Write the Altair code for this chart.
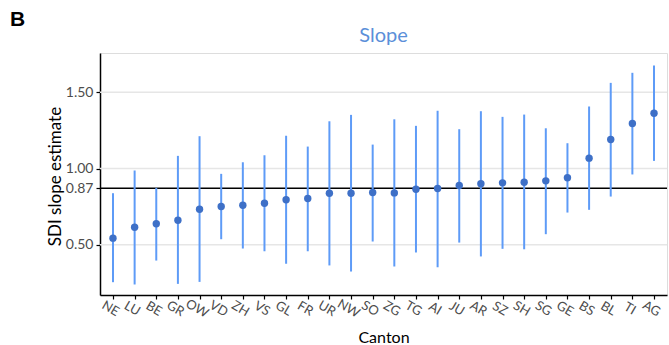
import altair as alt
import pandas as pd

cantons = ["NE", "LU", "BE", "GR", "OW", "VD", "ZH", "VS", "GL", "FR", "UR", "NW", "SO",
           "ZG", "TG", "AI", "JU", "AR", "SZ", "SH", "SG", "GE", "BS", "BL", "TI", "AG"]
estimate = [0.543, 0.615, 0.637, 0.661, 0.733, 0.751, 0.759, 0.772, 0.795, 0.803, 0.838, 0.838, 0.843,
            0.840, 0.864, 0.869, 0.888, 0.900, 0.906, 0.910, 0.919, 0.939, 1.068, 1.190, 1.295, 1.363]
lower = [0.254, 0.239, 0.396, 0.243, 0.256, 0.536, 0.475, 0.457, 0.375, 0.457, 0.364, 0.324, 0.521,
         0.357, 0.449, 0.352, 0.514, 0.423, 0.473, 0.470, 0.569, 0.711, 0.729, 0.816, 0.961, 1.050]
upper = [0.838, 0.987, 0.873, 1.083, 1.212, 0.965, 1.041, 1.087, 1.215, 1.144, 1.310, 1.352, 1.157,
         1.323, 1.280, 1.379, 1.258, 1.376, 1.339, 1.354, 1.264, 1.166, 1.407, 1.562, 1.628, 1.676]
reference_value = 0.87
grid_values = [0.5, 1.0, 1.5]
tick_values = [0.5, 0.87, 1.0, 1.5]

df = pd.DataFrame({"Canton": cantons, "est": estimate, "lo": lower, "hi": upper})

FONT = "Lato"
W, H = 567, 242

yscale = alt.Scale(domain=[0.17, 1.758], nice=False, zero=False)
xscale = alt.Scale(type="point", padding=0.6)

xaxis = alt.Axis(
    title="Canton", labelAngle=30, labelAlign="center", labelBaseline="top",
    labelFont=FONT, labelFontSize=13, labelColor="#4d4d4d", labelPadding=4,
    titleFont=FONT, titleFontSize=16, titleFontWeight="normal", titleColor="black",
    titleBaseline="alphabetic", titleY=47,
    domainColor="black", domainWidth=1.5, tickColor="black", tickWidth=1.2, tickSize=4,
    grid=False,
)
yaxis = alt.Axis(
    title="SDI slope estimate", values=tick_values, format=".2f",
    labelFont=FONT, labelFontSize=14, labelColor="#4d4d4d", labelPadding=3,
    titleFont=FONT, titleFontSize=17, titleFontWeight="normal", titleColor="black",
    titleAngle=-90, titleAlign="center", titleBaseline="alphabetic", titleX=-40, titleY=123,
    domainColor="black", domainWidth=1.5, tickColor="black", tickWidth=1.2, tickSize=4,
    grid=False,
)

grid = alt.Chart(pd.DataFrame({"g": grid_values})).mark_rule(
    color="#e6e6e6", strokeWidth=1.5
).encode(
    y=alt.Y("g:Q", scale=yscale, axis=yaxis),
    x=alt.value(0), x2=alt.value(W),
)

ref = alt.Chart(pd.DataFrame({"r": [reference_value]})).mark_rule(
    color="black", strokeWidth=1.5
).encode(
    y=alt.Y("r:Q", scale=yscale, axis=yaxis),
    x=alt.value(0), x2=alt.value(W),
)

bars = alt.Chart(df).mark_rule(color="#5e9bf7", strokeWidth=2).encode(
    x=alt.X("Canton:N", sort=cantons, scale=xscale, axis=xaxis),
    y=alt.Y("lo:Q", scale=yscale, axis=yaxis),
    y2="hi:Q",
)

points = alt.Chart(df).mark_circle(color="#3e70c7", opacity=1, size=55).encode(
    x=alt.X("Canton:N", sort=cantons, scale=xscale, axis=xaxis),
    y=alt.Y("est:Q", scale=yscale, axis=yaxis),
)

title = alt.Chart(pd.DataFrame({"t": ["Slope"]})).mark_text(
    font=FONT, fontSize=20, color="#5b8fd9", align="center", baseline="alphabetic"
).encode(text="t:N", x=alt.value(W / 2), y=alt.value(-11))

panel = alt.Chart(pd.DataFrame({"t": ["B"]})).mark_text(
    font="Liberation Sans", fontSize=21, fontWeight="bold", color="black",
    align="left", baseline="alphabetic"
).encode(text="t:N", x=alt.value(-90), y=alt.value(-27))

chart = alt.layer(grid, ref, bars, points, title, panel).properties(
    width=W, height=H,
    autosize=alt.AutoSizeParams(type="none"),
    padding={"left": 100, "top": 53, "right": 2, "bottom": 50},
).configure_view(stroke=None).configure(background="white")

chart.save("out.html", embed_options={"renderer": "svg", "actions": False})
